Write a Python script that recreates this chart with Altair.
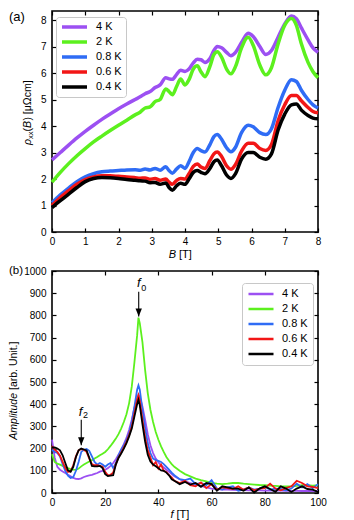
import altair as alt
import pandas as pd

# ---------------- panel (a): rho_xx(B) ----------------
B_field = [0.0, 0.25, 0.5, 0.75, 1.0, 1.25, 1.5, 1.75, 2.0, 2.25, 2.5, 2.65, 2.8, 2.95,
           3.1, 3.25, 3.42, 3.52, 3.62, 3.75, 3.87, 4.0, 4.12, 4.25, 4.37, 4.48, 4.6,
           4.75, 4.87, 4.97, 5.1, 5.25, 5.38, 5.52, 5.7, 5.9, 6.05, 6.25, 6.43, 6.6,
           6.8, 7.0, 7.2, 7.35, 7.5, 7.7, 7.85, 8.0]
rho_4K = [2.72, 3.0, 3.28, 3.55, 3.8, 4.03, 4.25, 4.45, 4.65, 4.83, 5.0, 5.1, 5.22, 5.3,
          5.45, 5.55, 5.82, 5.78, 5.76, 5.95, 6.1, 6.06, 6.15, 6.38, 6.52, 6.5, 6.4,
          6.55, 6.85, 7.0, 6.95, 6.78, 6.65, 6.78, 7.15, 7.5, 7.38, 7.0, 6.7, 6.85,
          7.35, 7.85, 8.15, 8.05, 7.7, 7.25, 6.95, 6.78]
rho_2K = [1.88, 2.25, 2.58, 2.88, 3.15, 3.4, 3.62, 3.83, 4.03, 4.22, 4.42, 4.52, 4.68, 4.72,
          4.92, 5.0, 5.4, 5.3, 5.18, 5.5, 5.77, 5.55, 5.75, 6.15, 6.27, 6.05, 5.86,
          6.25, 6.7, 6.8, 6.6, 6.15, 5.97, 6.25, 6.95, 7.35, 7.05, 6.3, 5.93, 6.2,
          7.1, 7.8, 8.06, 7.8, 7.1, 6.4, 6.05, 5.82]
rho_08K = [1.1, 1.4, 1.66, 1.9, 2.08, 2.2, 2.27, 2.3, 2.32, 2.34, 2.35, 2.33, 2.38, 2.34,
           2.4, 2.33, 2.46, 2.32, 2.22, 2.38, 2.5, 2.4, 2.65, 3.0, 3.15, 3.07, 3.02,
           3.3, 3.6, 3.68, 3.5, 3.18, 3.03, 3.2, 3.75, 4.03, 3.97, 3.75, 3.68, 3.9,
           4.7, 5.35, 5.75, 5.68, 5.35, 5.0, 4.8, 4.68]
rho_06K = [1.0, 1.3, 1.56, 1.8, 1.98, 2.08, 2.12, 2.12, 2.1, 2.08, 2.05, 2.03, 2.04, 1.99,
           2.02, 1.95, 2.0, 1.88, 1.8, 1.95, 2.02, 2.0, 2.2, 2.48, 2.57, 2.45, 2.4,
           2.7, 2.95, 3.02, 2.85, 2.5, 2.37, 2.55, 3.05, 3.35, 3.35, 3.15, 3.08, 3.3,
           4.2, 4.8, 5.15, 5.15, 4.95, 4.7, 4.55, 4.5]
rho_04K = [0.92, 1.18, 1.43, 1.68, 1.9, 2.02, 2.06, 2.05, 2.02, 1.98, 1.95, 1.93, 1.92, 1.86,
           1.87, 1.8, 1.85, 1.68, 1.58, 1.75, 1.84, 1.8, 2.0, 2.25, 2.32, 2.25, 2.2,
           2.4, 2.65, 2.72, 2.5, 2.15, 2.02, 2.2, 2.75, 3.0, 3.0, 2.82, 2.75, 2.95,
           3.85, 4.45, 4.8, 4.83, 4.6, 4.4, 4.3, 4.27]

# ---------------- panel (b): FFT amplitude ----------------
f_freq = [0, 1, 2, 3, 4, 5, 6, 7, 8, 9, 10, 11, 12, 13, 14, 15, 16, 17, 18, 19,
          20, 21, 22, 23, 24, 25, 26, 27, 28, 29, 30, 31, 32, 32.5, 33, 34, 35, 36,
          37, 38, 39, 40, 41, 42, 43, 44, 45, 46, 48, 50, 52, 54, 56, 58, 60, 62,
          64, 66, 68, 70, 72, 74, 76, 78, 80, 82, 84, 86, 88, 90, 92, 94, 96, 98, 100]
amp_4K = [240, 160, 118, 105, 97, 90, 82, 75, 68, 64,
          63, 66, 72, 76, 79, 82, 86, 90, 96, 100,
          105, 112, 122, 135, 152, 172, 195, 220, 248, 285,
          330, 385, 425, 442, 432, 390, 330, 265, 215, 180, 155,
          138, 125, 115, 105, 95, 85, 75,
          62, 52, 45, 38, 32, 25, 20, 17, 15, 15, 14, 13, 13, 12, 12, 12, 11, 11, 12, 11,
          10, 10, 10, 9, 10, 9, 9]
amp_2K = [175, 140, 132, 128, 122, 117, 112, 108, 105, 104,
          110, 120, 128, 135, 142, 148, 155, 162, 170, 177,
          185, 197, 212, 228, 245, 265, 290, 320, 355, 405,
          480, 590, 710, 790, 765, 680, 555, 450, 375, 320, 275,
          240, 210, 185, 162, 145, 130, 118,
          100, 85, 75, 65, 58, 52, 45, 42, 40, 42, 45, 45, 42, 40, 38, 36, 35, 33, 32, 30,
          30, 30, 32, 35, 35, 33, 35]
amp_08K = [195, 185, 180, 165, 130, 100, 78, 68, 72, 100,
           140, 185, 195, 198, 190, 165, 140, 128, 135, 128,
           118, 128, 135, 112, 135, 170, 195, 215, 240, 270,
           320, 390, 465, 485, 465, 375, 295, 225, 180, 155, 148,
           145, 140, 130, 118, 105, 92, 80,
           62, 58, 65, 40, 45, 35, 58, 20, 15, 25, 30, 10, 15, 25, 15, 20, 28, 15, 20, 18,
           12, 20, 42, 25, 40, 22, 40]
amp_06K = [212, 195, 185, 168, 140, 112, 95, 98, 125, 165,
           192, 198, 195, 185, 155, 130, 125, 125, 122, 118,
           95, 80, 82, 92, 130, 160, 182, 205, 230, 262,
           300, 360, 420, 440, 415, 330, 252, 192, 160, 125, 140,
           110, 128, 100, 95, 80, 70, 55,
           45, 55, 35, 30, 48, 22, 40, 15, 25, 22, 18, 30, 15, 25, 12, 20, 22, 42, 20, 12,
           22, 30, 55, 45, 30, 28, 22]
amp_04K = [205, 205, 200, 192, 170, 135, 102, 96, 118, 162,
           192, 200, 196, 192, 160, 122, 120, 120, 122, 112,
           85, 76, 78, 80, 128, 158, 178, 200, 225, 255,
           290, 345, 400, 420, 395, 310, 232, 172, 142, 128, 120,
           112, 102, 100, 92, 80, 62, 55,
           40, 50, 38, 45, 28, 45, 40, 10, 30, 25, 20, 20, 10, 25, 2, 20, 30, 18, 5, 30,
           20, 5, 20, 30, 18, 15, 5]

temps = ["4 K", "2 K", "0.8 K", "0.6 K", "0.4 K"]
colors = ["#9c50f2", "#5cf01e", "#2f6cf5", "#f21616", "#000000"]

B_ticks = [0, 1, 2, 3, 4, 5, 6, 7, 8]
rho_ticks = [0, 1, 2, 3, 4, 5, 6, 7, 8]
f_ticks = [0, 20, 40, 60, 80, 100]
amp_ticks = [0, 100, 200, 300, 400, 500, 600, 700, 800, 900, 1000]

# annotations (panel b)
arrow_f = [32.6, 11.0]
arrow_top = [907, 330]
arrow_tip = [795, 215]
label_f = [32.6, 10.7]
label_amp = [944, 367]
label_sub = ["0", "2"]
label_sub_amp = [924, 350]

FONT = "Liberation Sans"
W = 266
H1 = 221
H2 = 222

top_series = [rho_4K, rho_2K, rho_08K, rho_06K, rho_04K]
bot_series = [amp_4K, amp_2K, amp_08K, amp_06K, amp_04K]

df_top = pd.concat([pd.DataFrame({"B": B_field, "rho": s, "T": t})
                    for s, t in zip(top_series, temps)], ignore_index=True)
df_bot = pd.concat([pd.DataFrame({"f": f_freq, "amp": s, "T": t})
                    for s, t in zip(bot_series, temps)], ignore_index=True)

tick_common = dict(labels=False, ticks=True, tickSize=4, tickWidth=1.2, tickColor="black",
                   domain=False, grid=False, title=None)


def legend(x, y, sw, pad):
    return alt.Legend(orient="none", legendX=x, legendY=y, title=None, symbolType="stroke",
                      symbolSize=625, symbolStrokeWidth=sw, labelFontSize=11, labelFont=FONT,
                      labelColor="black", padding=pad, rowPadding=3, fillColor="white",
                      strokeColor="#c8c8c8", cornerRadius=3, labelOffset=7, clipHeight=12)


def txt(text, x, y, size=11, italic=False, angle=0, align="left", baseline="alphabetic", dy=0):
    kw = dict(fontSize=size, font=FONT, align=align, baseline=baseline, color="black")
    if italic:
        kw["fontStyle"] = "italic"
    if angle:
        kw["angle"] = angle
    if dy:
        kw["dy"] = dy
    return alt.Chart(pd.DataFrame({"t": [text]})).mark_text(**kw).encode(
        text="t:N", x=alt.value(x), y=alt.value(y))


def panel(df, xf, yf, xdom, ydom, xvals, yvals, H, lw, interp, leg, extra, yfmt=None):
    xs = alt.Scale(domain=xdom, nice=False, zero=False)
    ys = alt.Scale(domain=ydom, nice=False, zero=False)
    yax = dict(orient="left", values=yvals, ticks=False, tickSize=0, domain=False, grid=False,
               title=None, labelFontSize=10, labelFont=FONT, labelColor="black", labelPadding=6,
               labelFlush=False)
    if yfmt:
        yax["format"] = yfmt
    main = alt.Chart(df).mark_line(strokeWidth=lw, interpolate=interp).encode(
        x=alt.X(xf, scale=xs, axis=alt.Axis(orient="bottom", values=xvals, ticks=False, tickSize=0,
                                            domain=False, grid=False, title=None, labelFontSize=10,
                                            labelFont=FONT, labelColor="black", labelPadding=4,
                                            labelFlush=False)),
        y=alt.Y(yf, scale=ys, axis=alt.Axis(**yax)),
        color=alt.Color("T:N", scale=alt.Scale(domain=temps, range=colors), legend=leg),
    )
    inner1 = alt.Chart(df).mark_line(strokeOpacity=0).encode(
        x=alt.X(xf, scale=xs, axis=alt.Axis(orient="top", offset=-H, values=xvals, **tick_common)),
        y=alt.Y(yf, scale=ys, axis=alt.Axis(orient="right", offset=-W, values=yvals, **tick_common)),
    )
    inner2 = alt.Chart(df).mark_line(strokeOpacity=0).encode(
        x=alt.X(xf, scale=xs, axis=alt.Axis(orient="bottom", offset=-H, values=xvals, **tick_common)),
        y=alt.Y(yf, scale=ys, axis=alt.Axis(orient="left", offset=-W, values=yvals, **tick_common)),
    )
    return alt.layer(main, inner1, inner2, *extra).resolve_axis(
        x="independent", y="independent").properties(width=W, height=H)


# ---- texts for panel (a)
s0 = 134
top_extra = [
    txt("(a)", -43, 0, size=13, baseline="top"),
    txt("B", 124, H1 + 25.5, italic=True, align="right"),
    txt("[T]", 127, H1 + 25.5),
    txt("ρ", -23.7, s0, size=10.5, italic=True, angle=270, baseline="middle"),
    txt("xx", -23.7, s0 - 6.1, size=7.5, angle=270, baseline="middle", dy=2.5),
    txt("(", -23.7, s0 - 13.6, size=10.5, angle=270, baseline="middle"),
    txt("B", -23.7, s0 - 17.1, size=10.5, italic=True, angle=270, baseline="middle"),
    txt(") [μΩcm]", -23.7, s0 - 24.4, size=10.5, angle=270, baseline="middle"),
]

# ---- annotations for panel (b)
xs_b = alt.Scale(domain=[0, 100], nice=False, zero=False)
ys_b = alt.Scale(domain=[0, 1000], nice=False, zero=False)
arr_df = pd.DataFrame({"f": arrow_f, "top": arrow_top, "tip": arrow_tip})
lab_df = pd.DataFrame({"f": label_f, "amp": label_amp, "sub": label_sub, "samp": label_sub_amp})
shafts = alt.Chart(arr_df).mark_rule(color="black", strokeWidth=1.1).encode(
    x=alt.X("f:Q", scale=xs_b, axis=None), y=alt.Y("top:Q", scale=ys_b, axis=None), y2="tip:Q")
heads = alt.Chart(arr_df).mark_point(shape="M0,0L-0.8,-2L0.8,-2Z", filled=True, color="black",
                                     opacity=1, size=64).encode(
    x=alt.X("f:Q", scale=xs_b, axis=None), y=alt.Y("tip:Q", scale=ys_b, axis=None))
flabels = alt.Chart(lab_df).mark_text(text="f", font=FONT, fontSize=13, fontStyle="italic",
                                      align="center", color="black").encode(
    x=alt.X("f:Q", scale=xs_b, axis=None), y=alt.Y("amp:Q", scale=ys_b, axis=None))
fsubs = alt.Chart(lab_df).mark_text(font=FONT, fontSize=9, align="left", dx=2.5,
                                    color="black").encode(
    x=alt.X("f:Q", scale=xs_b, axis=None), y=alt.Y("samp:Q", scale=ys_b, axis=None),
    text="sub:N")

bot_extra = [
    shafts, heads, flabels, fsubs,
    txt("(b)", -43, 0, size=11.5, baseline="middle"),
    txt("f", 121.5, H2 + 24.5, italic=True, align="right"),
    txt("[T]", 124.5, H2 + 24.5),
    txt("Amplitude", -37.7, 122, size=10.5, italic=True, angle=270, align="right", baseline="middle"),
    txt("[arb. Unit.]", -37.7, 119, size=10.5, angle=270, align="left", baseline="middle"),
]

top = panel(df_top, "B:Q", "rho:Q", [0, 8], [0, 8.34], B_ticks, rho_ticks, H1, 3.5, "monotone",
            legend(4, 6, 3.5, 4), top_extra)
bot = panel(df_bot, "f:Q", "amp:Q", [0, 100], [0, 1000], f_ticks, amp_ticks, H2, 1.8, "linear",
            legend(190, 12, 2.5, 5), bot_extra, yfmt="d")

chart = alt.vconcat(top, bot, spacing=39, bounds="flush").resolve_scale(
    color="independent").resolve_legend(color="independent").properties(
    padding=0).configure_view(stroke="black", strokeWidth=1.6)

chart.save("out.html", embed_options={"renderer": "svg", "actions": False})
